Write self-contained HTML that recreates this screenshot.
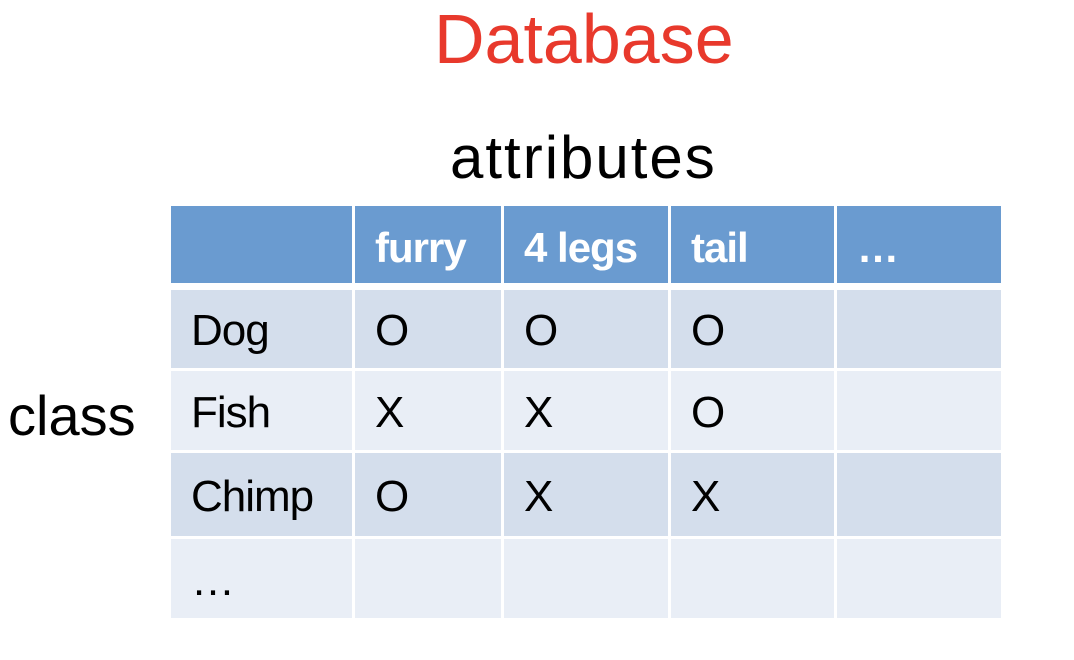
<!DOCTYPE html>
<html><head><style>
body{margin:0;width:1074px;height:660px;background:#fff;position:relative;overflow:hidden;font-family:"Liberation Sans",sans-serif}
.t{position:absolute;white-space:nowrap;line-height:1}
.c{position:absolute;box-sizing:border-box;padding-left:20px;padding-top:4px;display:flex;align-items:center;font-size:44px;color:#000;letter-spacing:-1px}
.h{background:#6a9bd0;color:#fff;font-weight:bold;font-size:42px;padding-top:6px}
.d{background:#d4deec}
.l{background:#e9eef6}
</style></head><body>
<div class="t" style="left:434px;top:4px;font-size:70px;color:#e8392c">Database</div>
<div class="t" style="left:450px;top:128px;font-size:60px;letter-spacing:2px">attributes</div>
<div class="t" style="left:8px;top:388px;font-size:56px">class</div>

<div class="c h" style="left:171px;top:206px;width:181px;height:77px"></div>
<div class="c h" style="left:355px;top:206px;width:146px;height:77px">furry</div>
<div class="c h" style="left:504px;top:206px;width:164px;height:77px">4 legs</div>
<div class="c h" style="left:671px;top:206px;width:163px;height:77px">tail</div>
<div class="c h" style="left:837px;top:206px;width:164px;height:77px">…</div>

<div class="c d" style="left:171px;top:290px;width:181px;height:78px">Dog</div>
<div class="c d" style="left:355px;top:290px;width:146px;height:78px">O</div>
<div class="c d" style="left:504px;top:290px;width:164px;height:78px">O</div>
<div class="c d" style="left:671px;top:290px;width:163px;height:78px">O</div>
<div class="c d" style="left:837px;top:290px;width:164px;height:78px"></div>

<div class="c l" style="left:171px;top:371px;width:181px;height:79px">Fish</div>
<div class="c l" style="left:355px;top:371px;width:146px;height:79px">X</div>
<div class="c l" style="left:504px;top:371px;width:164px;height:79px">X</div>
<div class="c l" style="left:671px;top:371px;width:163px;height:79px">O</div>
<div class="c l" style="left:837px;top:371px;width:164px;height:79px"></div>

<div class="c d" style="left:171px;top:453px;width:181px;height:83px">Chimp</div>
<div class="c d" style="left:355px;top:453px;width:146px;height:83px">O</div>
<div class="c d" style="left:504px;top:453px;width:164px;height:83px">X</div>
<div class="c d" style="left:671px;top:453px;width:163px;height:83px">X</div>
<div class="c d" style="left:837px;top:453px;width:164px;height:83px"></div>

<div class="c l" style="left:171px;top:539px;width:181px;height:79px">…</div>
<div class="c l" style="left:355px;top:539px;width:146px;height:79px"></div>
<div class="c l" style="left:504px;top:539px;width:164px;height:79px"></div>
<div class="c l" style="left:671px;top:539px;width:163px;height:79px"></div>
<div class="c l" style="left:837px;top:539px;width:164px;height:79px"></div>
</body></html>
